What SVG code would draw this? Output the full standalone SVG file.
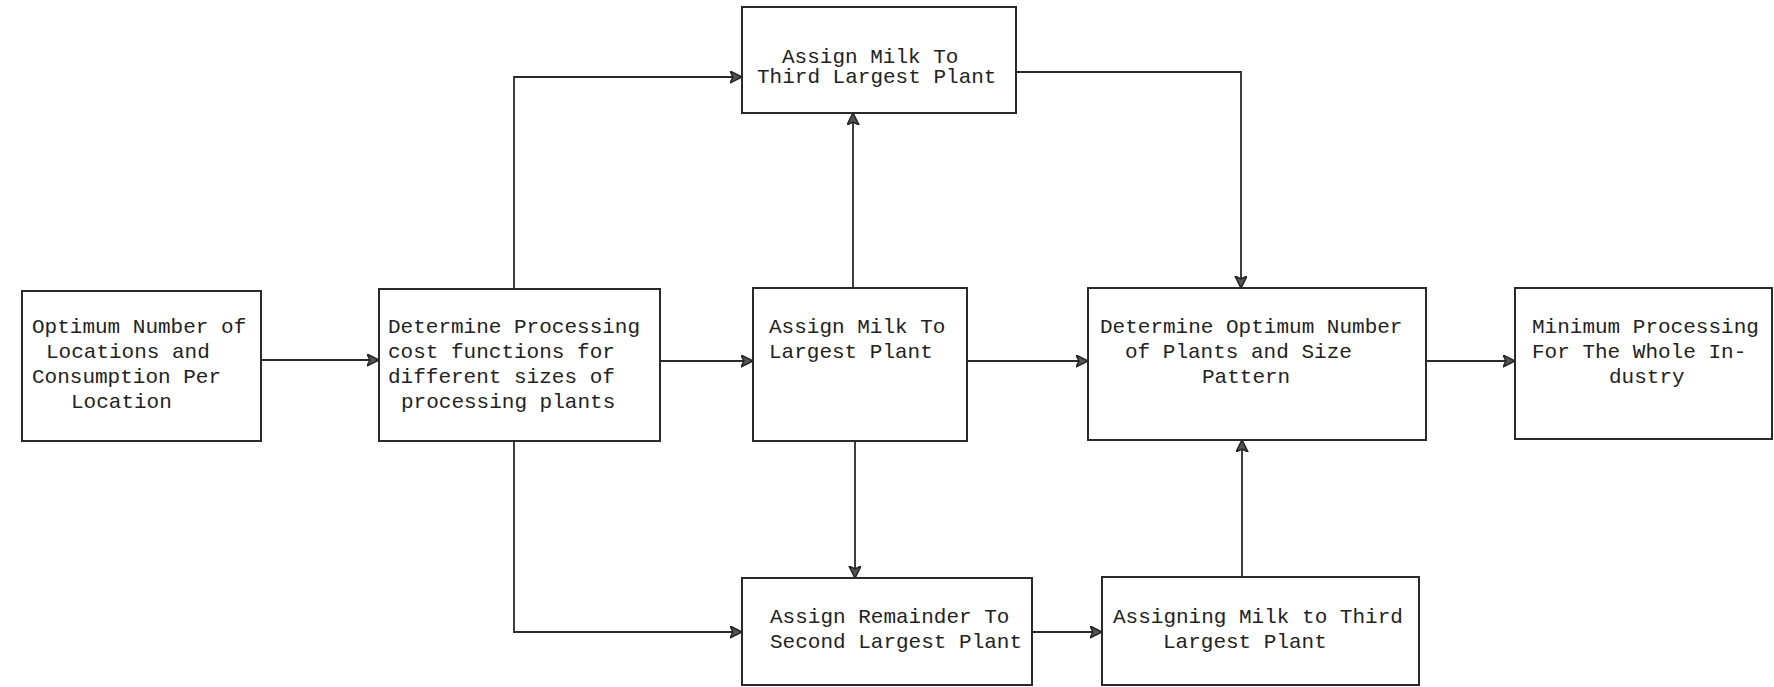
<svg xmlns="http://www.w3.org/2000/svg" width="1774" height="687" viewBox="0 0 1774 687">
<defs>
<style>
.box{fill:#fff;stroke:#2a2a2a;stroke-width:2}
.edge{fill:none;stroke:#2a2a2a;stroke-width:1.8}
text{font-family:"Liberation Mono","Courier New",monospace;font-size:21px;fill:#222}
</style>
<marker id="arr" markerUnits="userSpaceOnUse" markerWidth="14" markerHeight="14" refX="12" refY="6" orient="auto">
<path d="M0,0 L12,6 L0,12 L3,6 z" fill="#555" stroke="#222" stroke-width="1.5"/>
</marker>
</defs>
<rect width="1774" height="687" fill="#fff"/>
<g id="connectors">
<path class="edge" d="M261,360 H379" marker-end="url(#arr)"/>
<path class="edge" d="M660,361 H753" marker-end="url(#arr)"/>
<path class="edge" d="M967,361 H1088" marker-end="url(#arr)"/>
<path class="edge" d="M1426,361 H1515" marker-end="url(#arr)"/>
<path class="edge" d="M514,289 V77 H742" marker-end="url(#arr)"/>
<path class="edge" d="M853,288 V113" marker-end="url(#arr)"/>
<path class="edge" d="M1016,72 H1241 V288" marker-end="url(#arr)"/>
<path class="edge" d="M514,441 V632 H742" marker-end="url(#arr)"/>
<path class="edge" d="M855,441 V578" marker-end="url(#arr)"/>
<path class="edge" d="M1032,632 H1102" marker-end="url(#arr)"/>
<path class="edge" d="M1242,577 V440" marker-end="url(#arr)"/>
</g>
<g id="n1">
<rect class="box" x="22" y="291" width="239" height="150"/>
<text><tspan x="32" y="333">Optimum Number of</tspan><tspan x="46" y="358">Locations and</tspan><tspan x="32" y="383">Consumption Per</tspan><tspan x="71" y="408">Location</tspan></text>
</g>
<g id="n2">
<rect class="box" x="379" y="289" width="281" height="152"/>
<text><tspan x="388" y="333">Determine Processing</tspan><tspan x="388" y="358">cost functions for</tspan><tspan x="388" y="383">different sizes of</tspan><tspan x="401" y="408">processing plants</tspan></text>
</g>
<g id="n3">
<rect class="box" x="753" y="288" width="214" height="153"/>
<text><tspan x="769" y="333">Assign Milk To</tspan><tspan x="769" y="358">Largest Plant</tspan></text>
</g>
<g id="n4">
<rect class="box" x="742" y="7" width="274" height="106"/>
<text><tspan x="782" y="63">Assign Milk To</tspan><tspan x="757" y="83">Third Largest Plant</tspan></text>
</g>
<g id="n5">
<rect class="box" x="1088" y="288" width="338" height="152"/>
<text><tspan x="1100" y="333">Determine Optimum Number</tspan><tspan x="1125" y="358">of Plants and Size</tspan><tspan x="1202" y="383">Pattern</tspan></text>
</g>
<g id="n6">
<rect class="box" x="1515" y="288" width="257" height="151"/>
<text><tspan x="1532" y="333">Minimum Processing</tspan><tspan x="1532" y="358">For The Whole In-</tspan><tspan x="1609" y="383">dustry</tspan></text>
</g>
<g id="n7">
<rect class="box" x="742" y="578" width="290" height="107"/>
<text><tspan x="770" y="623">Assign Remainder To</tspan><tspan x="770" y="648">Second Largest Plant</tspan></text>
</g>
<g id="n8">
<rect class="box" x="1102" y="577" width="317" height="108"/>
<text><tspan x="1113" y="623">Assigning Milk to Third</tspan><tspan x="1163" y="648">Largest Plant</tspan></text>
</g>
</svg>
